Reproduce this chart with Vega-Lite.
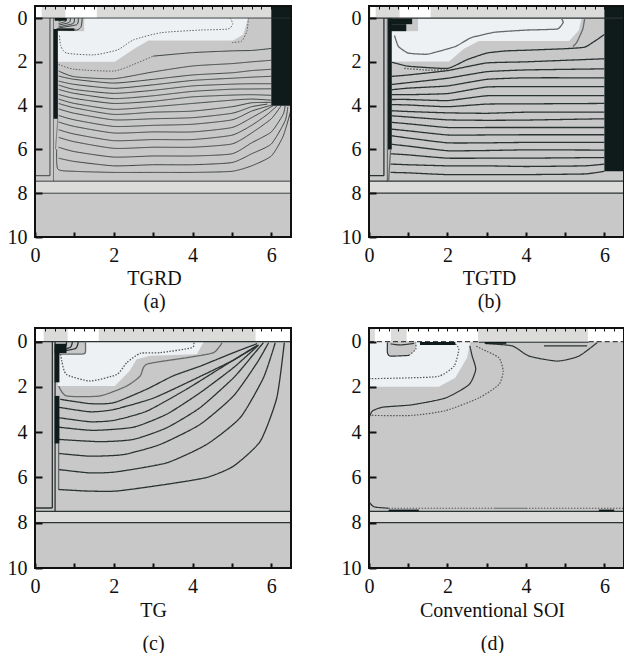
{"$schema":"https://vega.github.io/schema/vega-lite/v6.json","padding":{"left":7,"top":5,"right":0,"bottom":0},"background":"white","columns":2,"spacing":{"row":91,"column":78},"bounds":"flush","config":{"view":{"stroke":null},"axis":{"grid":false,"labelFont":"Liberation Serif","titleFont":"Liberation Serif","labelFontSize":20,"titleFontSize":20,"titleFontWeight":"normal","labelColor":"#111","titleColor":"#111","domainColor":"#111","tickColor":"#111","labelFlush":false,"labelOverlap":false}},
"datasets":{
"aR":[{"k":"bg","x":0,"x2":6.5,"y":-0.55,"y2":10},{"k":"strip","x":0,"x2":6.5,"y":-0.55,"y2":0},{"k":"white","x":0,"x2":0.17,"y":-0.55,"y2":0},{"k":"white","x":0.77,"x2":1.57,"y":-0.55,"y2":0},{"k":"black","x":6,"x2":6.5,"y":-0.55,"y2":4},{"k":"strip","x":0,"x2":6.5,"y":7.45,"y2":8}],
"aT":[{"k":"black","x":0.47,"x2":0.58,"y":0.5,"y2":4.6},{"k":"black","x":0.55,"x2":1.0,"y":0.47,"y2":0.58},{"k":"black","x":0.5,"x2":0.8,"y":0,"y2":0.12}],
"aA":[{"k":"light","x":0.55,"y":2,"y0":0},{"k":"light","x":2.03,"y":2,"y0":0},{"k":"light","x":2.5,"y":1.43,"y0":0},{"k":"light","x":2.88,"y":1.02,"y0":0},{"k":"light","x":5.03,"y":1.02,"y0":0},{"k":"light","x":5.29,"y":0.75,"y0":0},{"k":"light","x":5.41,"y":0,"y0":0},{"k":"gray","x":0.5,"y":0.6,"y0":0},{"k":"gray","x":1.25,"y":0.6,"y0":0}],
"aL":[
{"s":"box1","k":"solid","x":0.38,"y":0},{"s":"box1","k":"solid","x":0.38,"y":7.2},{"s":"box1b","k":"solid","x":0.38,"y":7.2},{"s":"box1b","k":"solid","x":0,"y":7.2},
{"s":"box2","k":"mid","x":0.47,"y":0},{"s":"box2","k":"mid","x":0.47,"y":7.45},
{"s":"h0","k":"solid","x":0,"y":0},{"s":"h0","k":"solid","x":6.5,"y":0},
{"s":"h1","k":"solid","x":0,"y":7.45},{"s":"h1","k":"solid","x":6.5,"y":7.45},
{"s":"h2","k":"solid","x":0,"y":8},{"s":"h2","k":"solid","x":6.5,"y":8},
{"s":"t1","k":"mid","x":0.58,"y":4.6},{"s":"t1","k":"mid","x":0.52,"y":6},
{"s":"d1","k":"dot","x":4.95,"y":0},{"s":"d1","k":"dot","x":5.02,"y":0.25},{"s":"d1","k":"dot","x":4.9,"y":0.5},{"s":"d1","k":"dot","x":4.2,"y":0.55},{"s":"d1","k":"dot","x":3.2,"y":0.67},{"s":"d1","k":"dot","x":2.5,"y":1},{"s":"d1","k":"dot","x":2.1,"y":1.45},{"s":"d1","k":"dot","x":1.5,"y":1.68},{"s":"d1","k":"dot","x":0.8,"y":1.6},{"s":"d1","k":"dot","x":0.65,"y":1.25},{"s":"d1","k":"dot","x":0.62,"y":0.75},
{"s":"d2","k":"dot","x":5.42,"y":0},{"s":"d2","k":"dot","x":5.38,"y":0.6},{"s":"d2","k":"dot","x":5.25,"y":1.05},{"s":"d2","k":"dot","x":5,"y":1.12},
{"s":"d3","k":"dot","x":0.6,"y":2.12},{"s":"d3","k":"dot","x":1,"y":2.34},{"s":"d3","k":"dot","x":2,"y":2.42},{"s":"d3","k":"dot","x":2.5,"y":2.12},{"s":"d3","k":"dot","x":3,"y":1.74},
{"s":"l1","k":"solid","x":3,"y":1.74},{"s":"l1","k":"solid","x":4,"y":1.58},{"s":"l1","k":"solid","x":5,"y":1.5},{"s":"l1","k":"solid","x":5.5,"y":1.48},{"s":"l1","k":"solid","x":6,"y":1.39},
{"s":"l2","k":"solid","x":0.6,"y":2.42},{"s":"l2","k":"solid","x":1,"y":2.68},{"s":"l2","k":"solid","x":2,"y":2.77},{"s":"l2","k":"solid","x":3,"y":2.46},{"s":"l2","k":"solid","x":4,"y":2.19},{"s":"l2","k":"solid","x":5,"y":2.08},{"s":"l2","k":"solid","x":5.5,"y":2},{"s":"l2","k":"solid","x":6,"y":1.93},
{"s":"l3","k":"solid","x":0.6,"y":2.65},{"s":"l3","k":"solid","x":1,"y":2.8},{"s":"l3","k":"solid","x":2,"y":2.97},{"s":"l3","k":"solid","x":3,"y":2.8},{"s":"l3","k":"solid","x":4,"y":2.6},{"s":"l3","k":"solid","x":5,"y":2.5},{"s":"l3","k":"solid","x":5.5,"y":2.4},{"s":"l3","k":"solid","x":6,"y":2.34},
{"s":"l4","k":"solid","x":0.6,"y":2.88},{"s":"l4","k":"solid","x":1,"y":3.03},{"s":"l4","k":"solid","x":2,"y":3.21},{"s":"l4","k":"solid","x":3,"y":3.05},{"s":"l4","k":"solid","x":4,"y":2.85},{"s":"l4","k":"solid","x":5,"y":2.75},{"s":"l4","k":"solid","x":5.5,"y":2.7},{"s":"l4","k":"solid","x":6,"y":2.66},
{"s":"l5","k":"solid","x":0.6,"y":3.06},{"s":"l5","k":"solid","x":1,"y":3.26},{"s":"l5","k":"solid","x":2,"y":3.44},{"s":"l5","k":"solid","x":3,"y":3.3},{"s":"l5","k":"solid","x":4,"y":3.1},{"s":"l5","k":"solid","x":5,"y":3.02},{"s":"l5","k":"solid","x":5.5,"y":3},{"s":"l5","k":"solid","x":6,"y":3},
{"s":"l6","k":"solid","x":0.6,"y":3.26},{"s":"l6","k":"solid","x":1,"y":3.44},{"s":"l6","k":"solid","x":2,"y":3.68},{"s":"l6","k":"solid","x":3,"y":3.55},{"s":"l6","k":"solid","x":4,"y":3.35},{"s":"l6","k":"solid","x":5,"y":3.25},{"s":"l6","k":"solid","x":5.5,"y":3.24},{"s":"l6","k":"solid","x":6,"y":3.23},
{"s":"l7","k":"solid","x":0.6,"y":3.49},{"s":"l7","k":"solid","x":1,"y":3.67},{"s":"l7","k":"solid","x":2,"y":3.9},{"s":"l7","k":"solid","x":3,"y":3.8},{"s":"l7","k":"solid","x":4,"y":3.6},{"s":"l7","k":"solid","x":5,"y":3.52},{"s":"l7","k":"solid","x":5.5,"y":3.5},{"s":"l7","k":"solid","x":6,"y":3.53},
{"s":"l8","k":"solid","x":0.6,"y":3.7},{"s":"l8","k":"solid","x":1,"y":3.9},{"s":"l8","k":"solid","x":2,"y":4.17},{"s":"l8","k":"solid","x":3,"y":4.05},{"s":"l8","k":"solid","x":4,"y":3.9},{"s":"l8","k":"solid","x":5,"y":3.75},{"s":"l8","k":"solid","x":5.5,"y":3.7},{"s":"l8","k":"solid","x":6,"y":3.75},
{"s":"l9","k":"solid","x":0.6,"y":3.9},{"s":"l9","k":"solid","x":1,"y":4.1},{"s":"l9","k":"solid","x":2,"y":4.4},{"s":"l9","k":"solid","x":3,"y":4.3},{"s":"l9","k":"solid","x":4,"y":4.25},{"s":"l9","k":"solid","x":5,"y":4.05},{"s":"l9","k":"solid","x":5.5,"y":3.87},{"s":"l9","k":"solid","x":6,"y":3.85},
{"s":"l10","k":"solid","x":0.6,"y":4.15},{"s":"l10","k":"solid","x":1,"y":4.35},{"s":"l10","k":"solid","x":2,"y":4.65},{"s":"l10","k":"solid","x":3,"y":4.6},{"s":"l10","k":"solid","x":4,"y":4.55},{"s":"l10","k":"solid","x":5,"y":4.35},{"s":"l10","k":"solid","x":5.5,"y":4.05},{"s":"l10","k":"solid","x":5.9,"y":3.93},
{"s":"l11","k":"solid","x":0.6,"y":4.45},{"s":"l11","k":"solid","x":1,"y":4.65},{"s":"l11","k":"solid","x":2,"y":4.95},{"s":"l11","k":"solid","x":3,"y":4.9},{"s":"l11","k":"solid","x":4,"y":4.85},{"s":"l11","k":"solid","x":5,"y":4.65},{"s":"l11","k":"solid","x":5.5,"y":4.25},{"s":"l11","k":"solid","x":6,"y":3.98},
{"s":"l12","k":"solid","x":0.6,"y":4.75},{"s":"l12","k":"solid","x":1,"y":4.95},{"s":"l12","k":"solid","x":2,"y":5.25},{"s":"l12","k":"solid","x":3,"y":5.2},{"s":"l12","k":"solid","x":4,"y":5.2},{"s":"l12","k":"solid","x":5,"y":5},{"s":"l12","k":"solid","x":5.5,"y":4.55},{"s":"l12","k":"solid","x":6.05,"y":4},
{"s":"l13","k":"solid","x":0.6,"y":5.1},{"s":"l13","k":"solid","x":1,"y":5.3},{"s":"l13","k":"solid","x":2,"y":5.6},{"s":"l13","k":"solid","x":3,"y":5.55},{"s":"l13","k":"solid","x":4,"y":5.55},{"s":"l13","k":"solid","x":5,"y":5.35},{"s":"l13","k":"solid","x":5.5,"y":4.9},{"s":"l13","k":"solid","x":5.9,"y":4.4},{"s":"l13","k":"solid","x":6.15,"y":4},
{"s":"l14","k":"solid","x":0.6,"y":5.45},{"s":"l14","k":"solid","x":1,"y":5.65},{"s":"l14","k":"solid","x":2,"y":5.95},{"s":"l14","k":"solid","x":3,"y":5.9},{"s":"l14","k":"solid","x":4,"y":5.9},{"s":"l14","k":"solid","x":5,"y":5.75},{"s":"l14","k":"solid","x":5.5,"y":5.25},{"s":"l14","k":"solid","x":6,"y":4.6},{"s":"l14","k":"solid","x":6.25,"y":4},
{"s":"l15","k":"solid","x":0.6,"y":5.9},{"s":"l15","k":"solid","x":1,"y":6.1},{"s":"l15","k":"solid","x":2,"y":6.35},{"s":"l15","k":"solid","x":3,"y":6.3},{"s":"l15","k":"solid","x":4,"y":6.3},{"s":"l15","k":"solid","x":5,"y":6.2},{"s":"l15","k":"solid","x":5.5,"y":5.7},{"s":"l15","k":"solid","x":6,"y":5.2},{"s":"l15","k":"solid","x":6.3,"y":4.4},{"s":"l15","k":"solid","x":6.35,"y":4},
{"s":"l16","k":"solid","x":0.6,"y":6.4},{"s":"l16","k":"solid","x":1,"y":6.55},{"s":"l16","k":"solid","x":2,"y":6.75},{"s":"l16","k":"solid","x":3,"y":6.7},{"s":"l16","k":"solid","x":4,"y":6.7},{"s":"l16","k":"solid","x":5,"y":6.6},{"s":"l16","k":"solid","x":5.5,"y":6.2},{"s":"l16","k":"solid","x":6,"y":5.75},{"s":"l16","k":"solid","x":6.35,"y":4.7},{"s":"l16","k":"solid","x":6.42,"y":4.05},
{"s":"l17","k":"solid","x":0.55,"y":6},{"s":"l17","k":"solid","x":0.58,"y":6.9},{"s":"l17","k":"solid","x":1,"y":7},{"s":"l17","k":"solid","x":2,"y":7.05},{"s":"l17","k":"solid","x":3,"y":7.05},{"s":"l17","k":"solid","x":4,"y":7.05},{"s":"l17","k":"solid","x":5,"y":7},{"s":"l17","k":"solid","x":5.5,"y":6.75},{"s":"l17","k":"solid","x":6,"y":6.3},{"s":"l17","k":"solid","x":6.3,"y":5.4},{"s":"l17","k":"solid","x":6.5,"y":4.2},
{"s":"c1","k":"solid","x":0.7,"y":0},{"s":"c1","k":"solid","x":0.68,"y":0.1},{"s":"c1","k":"solid","x":0.6,"y":0.15},
{"s":"c2","k":"solid","x":0.8,"y":0},{"s":"c2","k":"solid","x":0.78,"y":0.15},{"s":"c2","k":"solid","x":0.6,"y":0.25},
{"s":"c3","k":"solid","x":0.9,"y":0},{"s":"c3","k":"solid","x":0.87,"y":0.2},{"s":"c3","k":"solid","x":0.6,"y":0.32},
{"s":"c4","k":"solid","x":1,"y":0},{"s":"c4","k":"solid","x":0.97,"y":0.25},{"s":"c4","k":"solid","x":0.6,"y":0.4},
{"s":"c5","k":"solid","x":1.1,"y":0},{"s":"c5","k":"solid","x":1.06,"y":0.3},{"s":"c5","k":"solid","x":0.6,"y":0.45},
{"s":"c6","k":"solid","x":1.2,"y":0},{"s":"c6","k":"solid","x":1.17,"y":0.4},{"s":"c6","k":"solid","x":1.05,"y":0.55},{"s":"c6","k":"solid","x":0.6,"y":0.52}
],
"bR":[{"k":"bg","x":0,"x2":6.5,"y":-0.55,"y2":10},{"k":"strip","x":0,"x2":6.5,"y":-0.55,"y2":0},{"k":"white","x":0.04,"x2":0.17,"y":-0.55,"y2":0},{"k":"white","x":0.78,"x2":1.57,"y":-0.55,"y2":0},{"k":"black","x":6,"x2":6.5,"y":-0.55,"y2":7},{"k":"strip","x":0,"x2":6.5,"y":7.45,"y2":8}],
"bT":[{"k":"black","x":0.47,"x2":0.58,"y":0,"y2":6},{"k":"black","x":0.5,"x2":1.1,"y":0.02,"y2":0.28},{"k":"black","x":0.5,"x2":0.95,"y":0.28,"y2":0.6}],
"bA":[{"k":"light","x":0.55,"y":1.98,"y0":0},{"k":"light","x":2.04,"y":1.98,"y0":0},{"k":"light","x":2.42,"y":1.4,"y0":0},{"k":"light","x":2.8,"y":1.05,"y0":0},{"k":"light","x":5.1,"y":1.05,"y0":0},{"k":"light","x":5.35,"y":0.56,"y0":0},{"k":"light","x":5.42,"y":0,"y0":0},{"k":"gray","x":0.5,"y":0.6,"y0":0},{"k":"gray","x":1.25,"y":0.6,"y0":0}],
"bL":[
{"s":"box1","k":"solid","x":0.38,"y":0},{"s":"box1","k":"solid","x":0.38,"y":7.2},{"s":"box1b","k":"solid","x":0.38,"y":7.2},{"s":"box1b","k":"solid","x":0,"y":7.2},
{"s":"box2","k":"mid","x":0.47,"y":0},{"s":"box2","k":"mid","x":0.47,"y":7.45},
{"s":"h0","k":"solid","x":0,"y":0},{"s":"h0","k":"solid","x":6.5,"y":0},
{"s":"h1","k":"solid","x":0,"y":7.45},{"s":"h1","k":"solid","x":6.5,"y":7.45},
{"s":"h2","k":"solid","x":0,"y":8},{"s":"h2","k":"solid","x":6.5,"y":8},
{"s":"d1","k":"mid","x":4.9,"y":0},{"s":"d1","k":"mid","x":4.95,"y":0.2},{"s":"d1","k":"mid","x":4.8,"y":0.5},{"s":"d1","k":"mid","x":4,"y":0.55},{"s":"d1","k":"mid","x":3.2,"y":0.65},{"s":"d1","k":"mid","x":2.6,"y":0.9},{"s":"d1","k":"mid","x":2.2,"y":1.3},{"s":"d1","k":"mid","x":1.5,"y":1.65},{"s":"d1","k":"mid","x":1,"y":1.6},{"s":"d1","k":"mid","x":0.75,"y":1.3},{"s":"d1","k":"mid","x":0.65,"y":0.8},
{"s":"d2","k":"mid","x":5.5,"y":0},{"s":"d2","k":"mid","x":5.45,"y":0.5},{"s":"d2","k":"mid","x":5.3,"y":1.1},{"s":"d2","k":"mid","x":5.2,"y":1.3},
{"s":"d3","k":"dot","x":0.9,"y":2.3},{"s":"d3","k":"dot","x":1.5,"y":2.38},{"s":"d3","k":"dot","x":2,"y":2.36},
{"s":"l1","k":"solid","x":0.55,"y":2},{"s":"l1","k":"solid","x":1,"y":2.2},{"s":"l1","k":"solid","x":2,"y":2.3},{"s":"l1","k":"solid","x":2.5,"y":1.9},{"s":"l1","k":"solid","x":3,"y":1.6},{"s":"l1","k":"solid","x":3.5,"y":1.5},{"s":"l1","k":"solid","x":4,"y":1.47},{"s":"l1","k":"solid","x":5,"y":1.4},{"s":"l1","k":"solid","x":5.5,"y":1.33},{"s":"l1","k":"solid","x":5.8,"y":1},{"s":"l1","k":"solid","x":6,"y":0.75},
{"s":"l2","k":"solid","x":0.55,"y":2.67},{"s":"l2","k":"solid","x":1,"y":2.6},{"s":"l2","k":"solid","x":2,"y":2.4},{"s":"l2","k":"solid","x":3,"y":2.05},{"s":"l2","k":"solid","x":4,"y":2},{"s":"l2","k":"solid","x":6,"y":1.86},
{"s":"l3","k":"solid","x":0.55,"y":3.04},{"s":"l3","k":"solid","x":1,"y":2.95},{"s":"l3","k":"solid","x":2,"y":2.75},{"s":"l3","k":"solid","x":3,"y":2.45},{"s":"l3","k":"solid","x":4,"y":2.37},{"s":"l3","k":"solid","x":6,"y":2.32},
{"s":"l4","k":"solid","x":0.55,"y":3.28},{"s":"l4","k":"solid","x":1,"y":3.2},{"s":"l4","k":"solid","x":2,"y":3.1},{"s":"l4","k":"solid","x":3,"y":2.8},{"s":"l4","k":"solid","x":4,"y":2.73},{"s":"l4","k":"solid","x":6,"y":2.73},
{"s":"l5","k":"solid","x":0.55,"y":3.5},{"s":"l5","k":"solid","x":1,"y":3.5},{"s":"l5","k":"solid","x":2,"y":3.45},{"s":"l5","k":"solid","x":3,"y":3.15},{"s":"l5","k":"solid","x":4,"y":3.13},{"s":"l5","k":"solid","x":6,"y":3.13},
{"s":"l6","k":"solid","x":0.55,"y":3.72},{"s":"l6","k":"solid","x":1,"y":3.72},{"s":"l6","k":"solid","x":2,"y":3.77},{"s":"l6","k":"solid","x":3,"y":3.55},{"s":"l6","k":"solid","x":4,"y":3.54},{"s":"l6","k":"solid","x":6,"y":3.54},
{"s":"l7","k":"solid","x":0.55,"y":3.95},{"s":"l7","k":"solid","x":1,"y":3.97},{"s":"l7","k":"solid","x":2,"y":4.05},{"s":"l7","k":"solid","x":3,"y":3.93},{"s":"l7","k":"solid","x":4,"y":3.92},{"s":"l7","k":"solid","x":6,"y":3.9},
{"s":"l8","k":"solid","x":0.55,"y":4.23},{"s":"l8","k":"solid","x":1,"y":4.27},{"s":"l8","k":"solid","x":2,"y":4.33},{"s":"l8","k":"solid","x":3,"y":4.35},{"s":"l8","k":"solid","x":4,"y":4.3},{"s":"l8","k":"solid","x":6,"y":4.3},
{"s":"l9","k":"solid","x":0.55,"y":4.46},{"s":"l9","k":"solid","x":1,"y":4.52},{"s":"l9","k":"solid","x":2,"y":4.65},{"s":"l9","k":"solid","x":3,"y":4.67},{"s":"l9","k":"solid","x":4,"y":4.66},{"s":"l9","k":"solid","x":6,"y":4.6},
{"s":"l10","k":"solid","x":0.55,"y":4.76},{"s":"l10","k":"solid","x":1,"y":4.83},{"s":"l10","k":"solid","x":2,"y":5},{"s":"l10","k":"solid","x":3,"y":5},{"s":"l10","k":"solid","x":4,"y":5},{"s":"l10","k":"solid","x":6,"y":5},
{"s":"l11","k":"solid","x":0.55,"y":5.07},{"s":"l11","k":"solid","x":1,"y":5.15},{"s":"l11","k":"solid","x":2,"y":5.34},{"s":"l11","k":"solid","x":3,"y":5.34},{"s":"l11","k":"solid","x":4,"y":5.33},{"s":"l11","k":"solid","x":6,"y":5.33},
{"s":"l12","k":"solid","x":0.55,"y":5.37},{"s":"l12","k":"solid","x":1,"y":5.48},{"s":"l12","k":"solid","x":2,"y":5.7},{"s":"l12","k":"solid","x":3,"y":5.7},{"s":"l12","k":"solid","x":4,"y":5.68},{"s":"l12","k":"solid","x":6,"y":5.68},
{"s":"l13","k":"solid","x":0.55,"y":5.76},{"s":"l13","k":"solid","x":1,"y":5.85},{"s":"l13","k":"solid","x":2,"y":6.06},{"s":"l13","k":"solid","x":3,"y":6.05},{"s":"l13","k":"solid","x":4,"y":6.02},{"s":"l13","k":"solid","x":6,"y":6.03},
{"s":"l14","k":"solid","x":0.55,"y":6.2},{"s":"l14","k":"solid","x":1,"y":6.25},{"s":"l14","k":"solid","x":2,"y":6.4},{"s":"l14","k":"solid","x":3,"y":6.4},{"s":"l14","k":"solid","x":4,"y":6.4},{"s":"l14","k":"solid","x":6,"y":6.37},
{"s":"l15","k":"solid","x":0.55,"y":6.67},{"s":"l15","k":"solid","x":1,"y":6.7},{"s":"l15","k":"solid","x":2,"y":6.75},{"s":"l15","k":"solid","x":3,"y":6.75},{"s":"l15","k":"solid","x":4,"y":6.78},{"s":"l15","k":"solid","x":5.5,"y":6.75},{"s":"l15","k":"solid","x":6,"y":6.67},
{"s":"l16","k":"solid","x":0.55,"y":7.05},{"s":"l16","k":"solid","x":1,"y":7.07},{"s":"l16","k":"solid","x":2,"y":7.15},{"s":"l16","k":"solid","x":4,"y":7.15},{"s":"l16","k":"solid","x":5.5,"y":7.12},{"s":"l16","k":"solid","x":6,"y":7},
{"s":"t1","k":"mid","x":0.55,"y":6},{"s":"t1","k":"mid","x":0.5,"y":7.45}
],
"cR":[{"k":"bg","x":0,"x2":6.5,"y":-0.6,"y2":10},{"k":"strip","x":0,"x2":6.5,"y":-0.6,"y2":0},{"k":"white","x":0,"x2":0.22,"y":-0.6,"y2":0},{"k":"white","x":0.83,"x2":1.62,"y":-0.6,"y2":0},{"k":"white","x":5.6,"x2":6.5,"y":-0.6,"y2":0},{"k":"strip","x":0,"x2":6.5,"y":7.5,"y2":8}],
"cT":[{"k":"black","x":0.5,"x2":0.62,"y":0.3,"y2":1.8},{"k":"black","x":0.5,"x2":0.62,"y":2.4,"y2":4.5},{"k":"black","x":0.5,"x2":0.8,"y":0.1,"y2":0.5}],
"cA":[{"k":"light","x":0.58,"y":1.96,"y0":0},{"k":"light","x":2.03,"y":1.96,"y0":0},{"k":"light","x":2.4,"y":1.3,"y0":0},{"k":"light","x":2.58,"y":0.78,"y0":0},{"k":"light","x":2.92,"y":0.63,"y0":0},{"k":"light","x":4.11,"y":0.56,"y0":0},{"k":"light","x":4.25,"y":0.12,"y0":0},{"k":"light","x":4.3,"y":0,"y0":0},{"k":"gray","x":0.5,"y":0.55,"y0":0},{"k":"gray","x":1.3,"y":0.55,"y0":0}],
"cL":[
{"s":"box1","k":"solid","x":0.44,"y":0},{"s":"box1","k":"solid","x":0.44,"y":7.35},{"s":"box1b","k":"solid","x":0.44,"y":7.35},{"s":"box1b","k":"solid","x":0,"y":7.35},
{"s":"box2","k":"solid","x":0.51,"y":0},{"s":"box2","k":"solid","x":0.51,"y":7.5},
{"s":"h0","k":"solid","x":0,"y":0},{"s":"h0","k":"solid","x":6.5,"y":0},
{"s":"h1","k":"solid","x":0,"y":7.5},{"s":"h1","k":"solid","x":6.5,"y":7.5},
{"s":"h2","k":"solid","x":0,"y":8},{"s":"h2","k":"solid","x":6.5,"y":8},
{"s":"d1","k":"dot","x":4.03,"y":0.05},{"s":"d1","k":"dot","x":3.98,"y":0.27},{"s":"d1","k":"dot","x":3.18,"y":0.49},{"s":"d1","k":"dot","x":2.67,"y":0.52},{"s":"d1","k":"dot","x":2.33,"y":0.93},{"s":"d1","k":"dot","x":2.08,"y":1.45},{"s":"d1","k":"dot","x":1.4,"y":1.74},{"s":"d1","k":"dot","x":0.8,"y":1.45},{"s":"d1","k":"dot","x":0.68,"y":0.86},{"s":"d1","k":"dot","x":0.64,"y":0.41},
{"s":"d2","k":"mid","x":4.75,"y":0.05},{"s":"d2","k":"mid","x":4.53,"y":0.49},{"s":"d2","k":"mid","x":3.86,"y":0.71},{"s":"d2","k":"mid","x":2.84,"y":1},{"s":"d2","k":"mid","x":2.67,"y":1.52},{"s":"d2","k":"mid","x":2.33,"y":1.96},{"s":"d2","k":"mid","x":1.65,"y":2.4},{"s":"d2","k":"mid","x":0.8,"y":2.4},{"s":"d2","k":"mid","x":0.6,"y":1.96},
{"s":"l1","k":"solid","x":0.64,"y":2.55},{"s":"l1","k":"solid","x":1.4,"y":2.74},{"s":"l1","k":"solid","x":2,"y":2.7},{"s":"l1","k":"solid","x":2.84,"y":2.1},{"s":"l1","k":"solid","x":3.5,"y":1.52},{"s":"l1","k":"solid","x":4.2,"y":1.08},{"s":"l1","k":"solid","x":5.04,"y":0.49},{"s":"l1","k":"solid","x":5.64,"y":0.09},
{"s":"l2","k":"solid","x":0.6,"y":2.9},{"s":"l2","k":"solid","x":1.4,"y":3.1},{"s":"l2","k":"solid","x":2,"y":3},{"s":"l2","k":"solid","x":3,"y":2.5},{"s":"l2","k":"solid","x":4,"y":1.7},{"s":"l2","k":"solid","x":5,"y":0.85},{"s":"l2","k":"solid","x":5.65,"y":0.15},
{"s":"l3","k":"solid","x":0.6,"y":3.36},{"s":"l3","k":"solid","x":1.4,"y":3.54},{"s":"l3","k":"solid","x":2,"y":3.48},{"s":"l3","k":"solid","x":2.84,"y":3.07},{"s":"l3","k":"solid","x":3.85,"y":2.1},{"s":"l3","k":"solid","x":4.87,"y":1},{"s":"l3","k":"solid","x":5.64,"y":0.2},
{"s":"l4","k":"solid","x":0.6,"y":3.78},{"s":"l4","k":"solid","x":1.48,"y":3.92},{"s":"l4","k":"solid","x":2.5,"y":3.78},{"s":"l4","k":"solid","x":3.35,"y":3.2},{"s":"l4","k":"solid","x":4.19,"y":2.26},{"s":"l4","k":"solid","x":5.04,"y":1.15},{"s":"l4","k":"solid","x":5.68,"y":0.15},
{"s":"l5","k":"solid","x":0.6,"y":4.32},{"s":"l5","k":"solid","x":1.65,"y":4.42},{"s":"l5","k":"solid","x":2.5,"y":4.32},{"s":"l5","k":"solid","x":3.35,"y":3.8},{"s":"l5","k":"solid","x":4.19,"y":2.92},{"s":"l5","k":"solid","x":5.04,"y":1.6},{"s":"l5","k":"solid","x":5.55,"y":0.56},{"s":"l5","k":"solid","x":5.8,"y":0.05},
{"s":"l6","k":"solid","x":0.6,"y":4.94},{"s":"l6","k":"solid","x":1.4,"y":5.06},{"s":"l6","k":"solid","x":2.25,"y":4.99},{"s":"l6","k":"solid","x":3.18,"y":4.54},{"s":"l6","k":"solid","x":4.19,"y":3.66},{"s":"l6","k":"solid","x":5.04,"y":2.4},{"s":"l6","k":"solid","x":5.64,"y":0.93},{"s":"l6","k":"solid","x":5.93,"y":0.05},
{"s":"l7","k":"solid","x":0.6,"y":5.65},{"s":"l7","k":"solid","x":1.4,"y":5.8},{"s":"l7","k":"solid","x":2.08,"y":5.75},{"s":"l7","k":"solid","x":3.35,"y":5.35},{"s":"l7","k":"solid","x":4.36,"y":4.54},{"s":"l7","k":"solid","x":5.21,"y":3.36},{"s":"l7","k":"solid","x":5.8,"y":1.6},{"s":"l7","k":"solid","x":6.1,"y":0.05},
{"s":"l8","k":"solid","x":0.59,"y":6.53},{"s":"l8","k":"solid","x":1.31,"y":6.6},{"s":"l8","k":"solid","x":2.08,"y":6.6},{"s":"l8","k":"solid","x":3.35,"y":6.3},{"s":"l8","k":"solid","x":4.36,"y":6},{"s":"l8","k":"solid","x":5.04,"y":5.5},{"s":"l8","k":"solid","x":5.72,"y":4.4},{"s":"l8","k":"solid","x":6.14,"y":2.48},{"s":"l8","k":"solid","x":6.33,"y":0.05},
{"s":"t1","k":"mid","x":0.6,"y":4.5},{"s":"t1","k":"mid","x":0.6,"y":6.53},
{"s":"c2","k":"solid","x":0.8,"y":0},{"s":"c2","k":"solid","x":0.78,"y":0.2},{"s":"c2","k":"solid","x":0.6,"y":0.3},
{"s":"c3","k":"solid","x":0.95,"y":0},{"s":"c3","k":"solid","x":0.9,"y":0.25},{"s":"c3","k":"solid","x":0.6,"y":0.4},
{"s":"c4","k":"solid","x":1.1,"y":0},{"s":"c4","k":"solid","x":1.03,"y":0.3},{"s":"c4","k":"solid","x":0.6,"y":0.45},
{"s":"c5","k":"mid","x":1.28,"y":0},{"s":"c5","k":"mid","x":1.28,"y":0.45},{"s":"c5","k":"mid","x":1.2,"y":0.55},{"s":"c5","k":"mid","x":0.6,"y":0.55}
],
"dR":[{"k":"bg","x":0,"x2":6.5,"y":-0.6,"y2":10},{"k":"strip","x":0,"x2":6.5,"y":-0.6,"y2":0},{"k":"white","x":0.15,"x2":0.56,"y":-0.6,"y2":0},{"k":"white","x":0.96,"x2":2.78,"y":-0.6,"y2":0},{"k":"white","x":5.58,"x2":6.5,"y":-0.6,"y2":0},{"k":"strip","x":0,"x2":6.5,"y":7.5,"y2":8}],
"dT":[{"k":"black","x":1.3,"x2":2.2,"y":0.02,"y2":0.15},{"k":"black","x":2.95,"x2":3.5,"y":0.02,"y2":0.1},{"k":"black","x":0.5,"x2":1.27,"y":7.42,"y2":7.5},{"k":"black","x":5.86,"x2":6.25,"y":7.42,"y2":7.5}],
"dA":[{"k":"light","x":0,"y":2,"y0":0},{"k":"light","x":1.78,"y":2,"y0":0},{"k":"light","x":2.2,"y":1.6,"y0":0},{"k":"light","x":2.5,"y":0.71,"y0":0},{"k":"light","x":2.57,"y":0.12,"y0":0},{"k":"light","x":2.58,"y":0,"y0":0},{"k":"gray","x":0.47,"y":0.49,"y0":0},{"k":"gray","x":0.55,"y":0.64,"y0":0},{"k":"gray","x":1.02,"y":0.61,"y0":0},{"k":"gray","x":1.19,"y":0.34,"y0":0}],
"dL":[
{"s":"h1","k":"solid","x":0,"y":7.5},{"s":"h1","k":"solid","x":6.5,"y":7.5},
{"s":"h2","k":"solid","x":0,"y":8},{"s":"h2","k":"solid","x":6.5,"y":8},
{"s":"h0a","k":"dash","x":0,"y":0},{"s":"h0a","k":"dash","x":2.8,"y":0},
{"s":"h0b","k":"solid","x":2.8,"y":0.03},{"s":"h0b","k":"solid","x":5.6,"y":0.03},
{"s":"h0c","k":"dash","x":5.6,"y":0},{"s":"h0c","k":"dash","x":6.5,"y":0},
{"s":"i1","k":"solid","x":0.47,"y":0.04},{"s":"i1","k":"solid","x":0.47,"y":0.49},{"s":"i1","k":"solid","x":0.55,"y":0.64},{"s":"i1","k":"solid","x":1.02,"y":0.61},
{"s":"i2","k":"dot","x":1.02,"y":0.61},{"s":"i2","k":"dot","x":1.19,"y":0.34},{"s":"i2","k":"dot","x":1.19,"y":0.04},
{"s":"i3","k":"solid","x":0.55,"y":0.1},{"s":"i3","k":"solid","x":0.8,"y":0.15},{"s":"i3","k":"solid","x":1.15,"y":0.08},
{"s":"d1","k":"dot","x":0,"y":1.64},{"s":"d1","k":"dot","x":1.06,"y":1.6},{"s":"d1","k":"dot","x":1.78,"y":1.53},{"s":"d1","k":"dot","x":2.17,"y":1.08},{"s":"d1","k":"dot","x":2.29,"y":0.34},{"s":"d1","k":"dot","x":2.2,"y":0.1},
{"s":"s1","k":"solid","x":0,"y":3.38},{"s":"s1","k":"solid","x":0.08,"y":3.08},{"s":"s1","k":"solid","x":0.34,"y":2.9},{"s":"s1","k":"solid","x":1.1,"y":2.79},{"s":"s1","k":"solid","x":1.95,"y":2.49},{"s":"s1","k":"solid","x":2.55,"y":1.9},{"s":"s1","k":"solid","x":2.72,"y":1.23},{"s":"s1","k":"solid","x":2.63,"y":0.64},{"s":"s1","k":"solid","x":2.57,"y":0.19},
{"s":"d2","k":"dot","x":0,"y":3.26},{"s":"d2","k":"dot","x":1.1,"y":3.26},{"s":"d2","k":"dot","x":1.95,"y":3.05},{"s":"d2","k":"dot","x":2.8,"y":2.49},{"s":"d2","k":"dot","x":3.31,"y":1.9},{"s":"d2","k":"dot","x":3.42,"y":1.3},{"s":"d2","k":"dot","x":3.31,"y":0.71},{"s":"d2","k":"dot","x":2.89,"y":0.34},{"s":"d2","k":"dot","x":2.72,"y":0.19},
{"s":"s2","k":"solid","x":2.97,"y":0.09},{"s":"s2","k":"solid","x":3.65,"y":0.19},{"s":"s2","k":"solid","x":4.08,"y":0.64},{"s":"s2","k":"solid","x":4.8,"y":0.86},{"s":"s2","k":"solid","x":5.35,"y":0.64},{"s":"s2","k":"solid","x":5.82,"y":0.04},
{"s":"s3","k":"solid","x":4.46,"y":0.19},{"s":"s3","k":"solid","x":5.56,"y":0.19},
{"s":"b1","k":"solid","x":0,"y":7.08},{"s":"b1","k":"solid","x":0.13,"y":7.3},{"s":"b1","k":"solid","x":0.5,"y":7.36},
{"s":"b2","k":"dot","x":0.5,"y":7.36},{"s":"b2","k":"dot","x":3.2,"y":7.36},
{"s":"b3","k":"mid","x":3.2,"y":7.36},{"s":"b3","k":"mid","x":4,"y":7.36},
{"s":"b4","k":"dot","x":4,"y":7.36},{"s":"b4","k":"dot","x":6.5,"y":7.36}
]},
"concat":[
{"width":256,"height":231,"resolve":{"axis":{"x":"independent","y":"independent"}},"layer":[
{"data":{"name":"aR"},"mark":{"type":"rect"},"encoding":{"x":{"field":"x","type":"quantitative","scale":{"domain":[0,6.5],"nice":false,"zero":false},"axis":{"zindex":1,"values":[0,1,2,3,4,5,6],"tickSize":-5,"tickWidth":2,"labelPadding":13,"labelExpr":"datum.value%2==0?datum.label:''","domain":false,"title":["TGRD","(a)"],"titleX":119,"titleY":47,"titleBaseline":"alphabetic","titleLineHeight":23}},"x2":{"field":"x2"},"y":{"field":"y","type":"quantitative","scale":{"domain":[-0.55,10],"reverse":true,"nice":false,"zero":false},"axis":{"zindex":1,"values":[0,2,4,6,8,10],"tickSize":-7,"tickWidth":2,"labelPadding":15,"domain":false,"title":null}},"y2":{"field":"y2"},"fill":{"field":"k","type":"nominal","scale":{"domain":["bg","strip","white","black","light","gray"],"range":["#c8c8c8","#dbdbd9","#ffffff","#0f1a1a","#eef1f3","#c8c8c8"]},"legend":null}}},
{"data":{"name":"aA"},"mark":{"type":"area"},"encoding":{"x":{"field":"x","type":"quantitative","scale":{"domain":[0,6.5],"nice":false,"zero":false},"axis":null},"y":{"field":"y","type":"quantitative","scale":{"domain":[-0.55,10],"reverse":true,"nice":false,"zero":false},"axis":null},"y2":{"field":"y0"},"fill":{"field":"k","type":"nominal","scale":{"domain":["bg","strip","white","black","light","gray"],"range":["#c8c8c8","#dbdbd9","#ffffff","#0f1a1a","#eef1f3","#c8c8c8"]},"legend":null}}},
{"data":{"name":"aL"},"mark":{"type":"line","strokeWidth":0.9,"interpolate":"cardinal","tension":0.4},"encoding":{"x":{"field":"x","type":"quantitative","scale":{"domain":[0,6.5],"nice":false,"zero":false},"axis":{"zindex":1,"orient":"top","values":[0,0.25,0.5,0.75,1,1.25,1.5,1.75,2,2.25,2.5,2.75,3,3.25,3.5,3.75,4,4.25,4.5,4.75,5,5.25,5.5,5.75,6,6.25,6.5],"tickSize":-3,"tickWidth":1,"labels":false,"domain":false,"title":null}},"y":{"field":"y","type":"quantitative","scale":{"domain":[-0.55,10],"reverse":true,"nice":false,"zero":false},"axis":null},"detail":{"field":"s"},"order":{"value":null},"color":{"field":"k","type":"nominal","scale":{"domain":["solid","mid","dot","dash"],"range":["#2b3232","#666a6a","#555555","#444444"]},"legend":null},"strokeDash":{"field":"k","type":"nominal","scale":{"domain":["solid","mid","dot","dash"],"range":[[1,0],[1,0],[1.5,1.5],[5,3]]},"legend":null}}},
{"data":{"name":"aT"},"mark":{"type":"rect"},"encoding":{"x":{"field":"x","type":"quantitative","scale":{"domain":[0,6.5],"nice":false,"zero":false},"axis":null},"x2":{"field":"x2"},"y":{"field":"y","type":"quantitative","scale":{"domain":[-0.55,10],"reverse":true,"nice":false,"zero":false},"axis":null},"y2":{"field":"y2"},"fill":{"field":"k","type":"nominal","scale":{"domain":["bg","strip","white","black","light","gray"],"range":["#c8c8c8","#dbdbd9","#ffffff","#0f1a1a","#eef1f3","#c8c8c8"]},"legend":null}}},
{"data":{"values":[{"x":0,"x2":6.5,"y":-0.55,"y2":10}]},"mark":{"type":"rect","fill":null,"stroke":"#111","strokeWidth":2},"encoding":{"x":{"field":"x","type":"quantitative","scale":{"domain":[0,6.5],"nice":false,"zero":false},"axis":null},"x2":{"field":"x2"},"y":{"field":"y","type":"quantitative","scale":{"domain":[-0.55,10],"reverse":true,"nice":false,"zero":false},"axis":null},"y2":{"field":"y2"}}}
]},
{"width":255,"height":231,"resolve":{"axis":{"x":"independent","y":"independent"}},"layer":[
{"data":{"name":"bR"},"mark":{"type":"rect"},"encoding":{"x":{"field":"x","type":"quantitative","scale":{"domain":[0,6.5],"nice":false,"zero":false},"axis":{"zindex":1,"values":[0,1,2,3,4,5,6],"tickSize":-5,"tickWidth":2,"labelPadding":13,"labelExpr":"datum.value%2==0?datum.label:''","domain":false,"title":["TGTD","(b)"],"titleX":120,"titleY":47,"titleBaseline":"alphabetic","titleLineHeight":23}},"x2":{"field":"x2"},"y":{"field":"y","type":"quantitative","scale":{"domain":[-0.55,10],"reverse":true,"nice":false,"zero":false},"axis":{"zindex":1,"values":[0,2,4,6,8,10],"tickSize":-7,"tickWidth":2,"labelPadding":15,"domain":false,"title":null}},"y2":{"field":"y2"},"fill":{"field":"k","type":"nominal","scale":{"domain":["bg","strip","white","black","light","gray"],"range":["#c8c8c8","#dbdbd9","#ffffff","#0f1a1a","#eef1f3","#c8c8c8"]},"legend":null}}},
{"data":{"name":"bA"},"mark":{"type":"area"},"encoding":{"x":{"field":"x","type":"quantitative","scale":{"domain":[0,6.5],"nice":false,"zero":false},"axis":null},"y":{"field":"y","type":"quantitative","scale":{"domain":[-0.55,10],"reverse":true,"nice":false,"zero":false},"axis":null},"y2":{"field":"y0"},"fill":{"field":"k","type":"nominal","scale":{"domain":["bg","strip","white","black","light","gray"],"range":["#c8c8c8","#dbdbd9","#ffffff","#0f1a1a","#eef1f3","#c8c8c8"]},"legend":null}}},
{"data":{"name":"bT"},"mark":{"type":"rect"},"encoding":{"x":{"field":"x","type":"quantitative","scale":{"domain":[0,6.5],"nice":false,"zero":false},"axis":null},"x2":{"field":"x2"},"y":{"field":"y","type":"quantitative","scale":{"domain":[-0.55,10],"reverse":true,"nice":false,"zero":false},"axis":null},"y2":{"field":"y2"},"fill":{"field":"k","type":"nominal","scale":{"domain":["bg","strip","white","black","light","gray"],"range":["#c8c8c8","#dbdbd9","#ffffff","#0f1a1a","#eef1f3","#c8c8c8"]},"legend":null}}},
{"data":{"name":"bL"},"mark":{"type":"line","strokeWidth":1.3,"interpolate":"cardinal","tension":0.6},"encoding":{"x":{"field":"x","type":"quantitative","scale":{"domain":[0,6.5],"nice":false,"zero":false},"axis":{"zindex":1,"orient":"top","values":[0,0.25,0.5,0.75,1,1.25,1.5,1.75,2,2.25,2.5,2.75,3,3.25,3.5,3.75,4,4.25,4.5,4.75,5,5.25,5.5,5.75,6,6.25,6.5],"tickSize":-3,"tickWidth":1,"labels":false,"domain":false,"title":null}},"y":{"field":"y","type":"quantitative","scale":{"domain":[-0.55,10],"reverse":true,"nice":false,"zero":false},"axis":null},"detail":{"field":"s"},"order":{"value":null},"color":{"field":"k","type":"nominal","scale":{"domain":["solid","mid","dot","dash"],"range":["#2b3232","#666a6a","#555555","#444444"]},"legend":null},"strokeDash":{"field":"k","type":"nominal","scale":{"domain":["solid","mid","dot","dash"],"range":[[1,0],[1,0],[1.5,1.5],[5,3]]},"legend":null}}},
{"data":{"values":[{"x":0,"x2":6.5,"y":-0.55,"y2":10}]},"mark":{"type":"rect","fill":null,"stroke":"#111","strokeWidth":2},"encoding":{"x":{"field":"x","type":"quantitative","scale":{"domain":[0,6.5],"nice":false,"zero":false},"axis":null},"x2":{"field":"x2"},"y":{"field":"y","type":"quantitative","scale":{"domain":[-0.55,10],"reverse":true,"nice":false,"zero":false},"axis":null},"y2":{"field":"y2"}}}
]},
{"width":256,"height":240,"resolve":{"axis":{"x":"independent","y":"independent"}},"layer":[
{"data":{"name":"cR"},"mark":{"type":"rect"},"encoding":{"x":{"field":"x","type":"quantitative","scale":{"domain":[0,6.5],"nice":false,"zero":false},"axis":{"zindex":1,"values":[0,1,2,3,4,5,6],"tickSize":-5,"tickWidth":2,"labelPadding":13,"labelExpr":"datum.value%2==0?datum.label:''","domain":false,"title":["TG","(c)"],"titleX":118,"titleY":48,"titleBaseline":"alphabetic","titleLineHeight":33}},"x2":{"field":"x2"},"y":{"field":"y","type":"quantitative","scale":{"domain":[-0.6,10],"reverse":true,"nice":false,"zero":false},"axis":{"zindex":1,"values":[0,2,4,6,8,10],"tickSize":-7,"tickWidth":2,"labelPadding":15,"domain":false,"title":null}},"y2":{"field":"y2"},"fill":{"field":"k","type":"nominal","scale":{"domain":["bg","strip","white","black","light","gray"],"range":["#c8c8c8","#dbdbd9","#ffffff","#0f1a1a","#eef1f3","#c8c8c8"]},"legend":null}}},
{"data":{"name":"cA"},"mark":{"type":"area"},"encoding":{"x":{"field":"x","type":"quantitative","scale":{"domain":[0,6.5],"nice":false,"zero":false},"axis":null},"y":{"field":"y","type":"quantitative","scale":{"domain":[-0.6,10],"reverse":true,"nice":false,"zero":false},"axis":null},"y2":{"field":"y0"},"fill":{"field":"k","type":"nominal","scale":{"domain":["bg","strip","white","black","light","gray"],"range":["#c8c8c8","#dbdbd9","#ffffff","#0f1a1a","#eef1f3","#c8c8c8"]},"legend":null}}},
{"data":{"name":"cL"},"mark":{"type":"line","strokeWidth":1.3,"interpolate":"cardinal","tension":0.4},"encoding":{"x":{"field":"x","type":"quantitative","scale":{"domain":[0,6.5],"nice":false,"zero":false},"axis":{"zindex":1,"orient":"top","values":[0,0.25,0.5,0.75,1,1.25,1.5,1.75,2,2.25,2.5,2.75,3,3.25,3.5,3.75,4,4.25,4.5,4.75,5,5.25,5.5,5.75,6,6.25,6.5],"tickSize":-3,"tickWidth":1,"labels":false,"domain":false,"title":null}},"y":{"field":"y","type":"quantitative","scale":{"domain":[-0.6,10],"reverse":true,"nice":false,"zero":false},"axis":null},"detail":{"field":"s"},"order":{"value":null},"color":{"field":"k","type":"nominal","scale":{"domain":["solid","mid","dot","dash"],"range":["#2b3232","#666a6a","#555555","#444444"]},"legend":null},"strokeDash":{"field":"k","type":"nominal","scale":{"domain":["solid","mid","dot","dash"],"range":[[1,0],[1,0],[1.5,1.5],[5,3]]},"legend":null}}},
{"data":{"name":"cT"},"mark":{"type":"rect"},"encoding":{"x":{"field":"x","type":"quantitative","scale":{"domain":[0,6.5],"nice":false,"zero":false},"axis":null},"x2":{"field":"x2"},"y":{"field":"y","type":"quantitative","scale":{"domain":[-0.6,10],"reverse":true,"nice":false,"zero":false},"axis":null},"y2":{"field":"y2"},"fill":{"field":"k","type":"nominal","scale":{"domain":["bg","strip","white","black","light","gray"],"range":["#c8c8c8","#dbdbd9","#ffffff","#0f1a1a","#eef1f3","#c8c8c8"]},"legend":null}}},
{"data":{"values":[{"x":0,"x2":6.5,"y":-0.6,"y2":10}]},"mark":{"type":"rect","fill":null,"stroke":"#111","strokeWidth":2},"encoding":{"x":{"field":"x","type":"quantitative","scale":{"domain":[0,6.5],"nice":false,"zero":false},"axis":null},"x2":{"field":"x2"},"y":{"field":"y","type":"quantitative","scale":{"domain":[-0.6,10],"reverse":true,"nice":false,"zero":false},"axis":null},"y2":{"field":"y2"}}}
]},
{"width":255,"height":240,"resolve":{"axis":{"x":"independent","y":"independent"}},"layer":[
{"data":{"name":"dR"},"mark":{"type":"rect"},"encoding":{"x":{"field":"x","type":"quantitative","scale":{"domain":[0,6.5],"nice":false,"zero":false},"axis":{"zindex":1,"values":[0,1,2,3,4,5,6],"tickSize":-5,"tickWidth":2,"labelPadding":13,"labelExpr":"datum.value%2==0?datum.label:''","domain":false,"title":["Conventional SOI","(d)"],"titleX":123,"titleY":48,"titleBaseline":"alphabetic","titleLineHeight":33}},"x2":{"field":"x2"},"y":{"field":"y","type":"quantitative","scale":{"domain":[-0.6,10],"reverse":true,"nice":false,"zero":false},"axis":{"zindex":1,"values":[0,2,4,6,8,10],"tickSize":-7,"tickWidth":2,"labelPadding":15,"domain":false,"title":null}},"y2":{"field":"y2"},"fill":{"field":"k","type":"nominal","scale":{"domain":["bg","strip","white","black","light","gray"],"range":["#c8c8c8","#dbdbd9","#ffffff","#0f1a1a","#eef1f3","#c8c8c8"]},"legend":null}}},
{"data":{"name":"dA"},"mark":{"type":"area"},"encoding":{"x":{"field":"x","type":"quantitative","scale":{"domain":[0,6.5],"nice":false,"zero":false},"axis":null},"y":{"field":"y","type":"quantitative","scale":{"domain":[-0.6,10],"reverse":true,"nice":false,"zero":false},"axis":null},"y2":{"field":"y0"},"fill":{"field":"k","type":"nominal","scale":{"domain":["bg","strip","white","black","light","gray"],"range":["#c8c8c8","#dbdbd9","#ffffff","#0f1a1a","#eef1f3","#c8c8c8"]},"legend":null}}},
{"data":{"name":"dL"},"mark":{"type":"line","strokeWidth":1.2,"interpolate":"cardinal","tension":0.4},"encoding":{"x":{"field":"x","type":"quantitative","scale":{"domain":[0,6.5],"nice":false,"zero":false},"axis":{"zindex":1,"orient":"top","values":[0,0.25,0.5,0.75,1,1.25,1.5,1.75,2,2.25,2.5,2.75,3,3.25,3.5,3.75,4,4.25,4.5,4.75,5,5.25,5.5,5.75,6,6.25,6.5],"tickSize":-3,"tickWidth":1,"labels":false,"domain":false,"title":null}},"y":{"field":"y","type":"quantitative","scale":{"domain":[-0.6,10],"reverse":true,"nice":false,"zero":false},"axis":null},"detail":{"field":"s"},"order":{"value":null},"color":{"field":"k","type":"nominal","scale":{"domain":["solid","mid","dot","dash"],"range":["#2b3232","#666a6a","#555555","#444444"]},"legend":null},"strokeDash":{"field":"k","type":"nominal","scale":{"domain":["solid","mid","dot","dash"],"range":[[1,0],[1,0],[1.5,1.5],[5,3]]},"legend":null}}},
{"data":{"name":"dT"},"mark":{"type":"rect"},"encoding":{"x":{"field":"x","type":"quantitative","scale":{"domain":[0,6.5],"nice":false,"zero":false},"axis":null},"x2":{"field":"x2"},"y":{"field":"y","type":"quantitative","scale":{"domain":[-0.6,10],"reverse":true,"nice":false,"zero":false},"axis":null},"y2":{"field":"y2"},"fill":{"field":"k","type":"nominal","scale":{"domain":["bg","strip","white","black","light","gray"],"range":["#c8c8c8","#dbdbd9","#ffffff","#0f1a1a","#eef1f3","#c8c8c8"]},"legend":null}}},
{"data":{"values":[{"x":0,"x2":6.5,"y":-0.6,"y2":10}]},"mark":{"type":"rect","fill":null,"stroke":"#111","strokeWidth":2},"encoding":{"x":{"field":"x","type":"quantitative","scale":{"domain":[0,6.5],"nice":false,"zero":false},"axis":null},"x2":{"field":"x2"},"y":{"field":"y","type":"quantitative","scale":{"domain":[-0.6,10],"reverse":true,"nice":false,"zero":false},"axis":null},"y2":{"field":"y2"}}}
]}
]}
